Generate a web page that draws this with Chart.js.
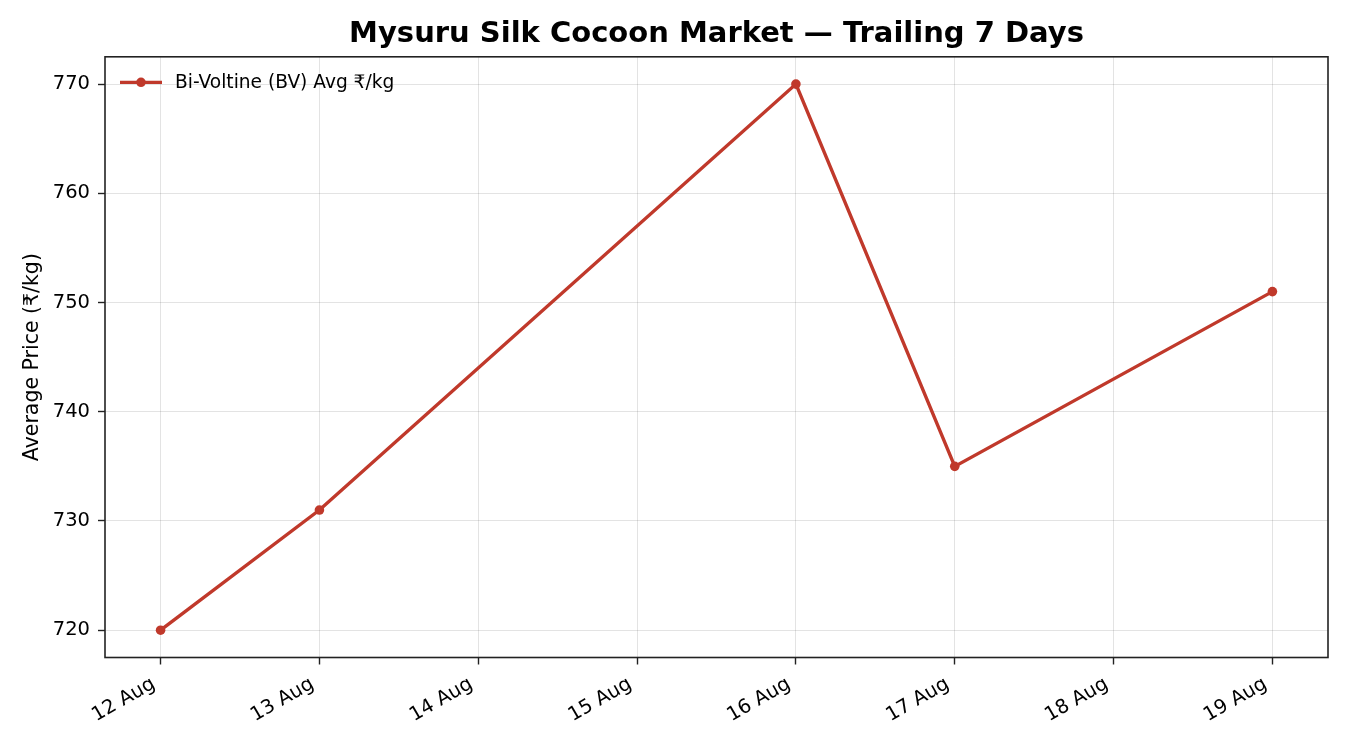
<!DOCTYPE html>
<html>
<head>
<meta charset="utf-8">
<script src="https://cdn.jsdelivr.net/npm/chart.js@4/dist/chart.umd.min.js"></script>
<style>
  html, body { margin: 0; padding: 0; background: #ffffff; }
  #wrap { width: 1350px; height: 750px; }
</style>
</head>
<body>
<div id="wrap"><canvas id="c" width="1350" height="750"></canvas></div>
<script>
// ---- data ----
const titleText = 'Mysuru Silk Cocoon Market — Trailing 7 Days';
const seriesLabel = 'Bi-Voltine (BV) Avg ₹/kg';
const yAxisLabel = 'Average Price (₹/kg)';
const monthName = 'Aug';
const obsDays = [12, 13, 16, 17, 19];
const obsPrices = [720, 731, 770, 735, 751];
const xTickDays = [12, 13, 14, 15, 16, 17, 18, 19];
const yTickValues = [720, 730, 740, 750, 760, 770];

const FONT = '"DejaVu Sans", sans-serif';
const RED = '#c0392b';
const SPINE = '#222222';

const points = obsDays.map((d, i) => ({ x: d, y: obsPrices[i] }));

const framePlugin = {
  id: 'frame',
  afterDraw(chart) {
    const { ctx, chartArea: a } = chart;
    ctx.save();
    ctx.strokeStyle = SPINE;
    ctx.lineWidth = 1.6;
    ctx.strokeRect(a.left, a.top, a.right - a.left, a.bottom - a.top);
    // legend inside plot, top-left
    const ly = a.top + 25.5;
    const lx = a.left + 15;
    ctx.strokeStyle = RED;
    ctx.lineWidth = 3.2;
    ctx.beginPath();
    ctx.moveTo(lx, ly);
    ctx.lineTo(lx + 42, ly);
    ctx.stroke();
    ctx.fillStyle = RED;
    ctx.beginPath();
    ctx.arc(lx + 21, ly, 4.8, 0, Math.PI * 2);
    ctx.fill();
    ctx.fillStyle = '#000';
    ctx.font = '18.6px ' + FONT;
    ctx.textBaseline = 'middle';
    ctx.textAlign = 'left';
    ctx.fillText(chart.data.datasets[0].label, lx + 55, ly + 1);
    ctx.restore();
  }
};

new Chart(document.getElementById('c'), {
  type: 'line',
  data: {
    datasets: [{
      label: seriesLabel,
      data: points,
      borderColor: RED,
      backgroundColor: RED,
      borderWidth: 3.4,
      pointRadius: 4.8,
      pointHoverRadius: 4.8,
      pointBackgroundColor: RED,
      pointBorderWidth: 0,
      tension: 0,
      fill: false
    }]
  },
  options: {
    responsive: false,
    animation: false,
    devicePixelRatio: 1,
    layout: { padding: { left: 0, right: 22, top: 0, bottom: 0 } },
    plugins: {
      legend: { display: false },
      tooltip: { enabled: false },
      title: {
        display: true,
        fullSize: false,
        text: titleText,
        color: '#000',
        font: { family: FONT, size: 29, weight: 'bold', lineHeight: 1.2 },
        padding: { top: 17, bottom: 5 }
      }
    },
    scales: {
      x: {
        type: 'linear',
        min: 11.65,
        max: 19.35,
        afterBuildTicks(scale) { scale.ticks = xTickDays.map(v => ({ value: v })); },
        afterFit(scale) { scale.height = 92.5; },
        ticks: {
          color: '#000',
          font: { family: FONT, size: 19.5 },
          minRotation: 30,
          maxRotation: 30,
          padding: 8,
          labelOffset: -7,
          autoSkip: false,
          callback: (v) => v + ' ' + monthName
        },
        grid: {
          color: 'rgba(0,0,0,0.11)',
          lineWidth: 1,
          drawTicks: true,
          tickLength: 7,
          tickColor: SPINE,
          tickWidth: 1.4
        },
        border: { display: false }
      },
      y: {
        type: 'linear',
        min: 717.5,
        max: 772.5,
        afterBuildTicks(scale) { scale.ticks = yTickValues.map(v => ({ value: v })); },
        afterFit(scale) { scale.width = 105; },
        ticks: {
          color: '#000',
          font: { family: FONT, size: 19.5 },
          padding: 8
        },
        grid: {
          color: 'rgba(0,0,0,0.11)',
          lineWidth: 1,
          drawTicks: true,
          tickLength: 7,
          tickColor: SPINE,
          tickWidth: 1.4
        },
        border: { display: false },
        title: {
          display: true,
          text: yAxisLabel,
          color: '#000',
          font: { family: FONT, size: 20.5 },
          padding: { top: 20, bottom: 0 }
        }
      }
    }
  },
  plugins: [framePlugin]
});
</script>
</body>
</html>
